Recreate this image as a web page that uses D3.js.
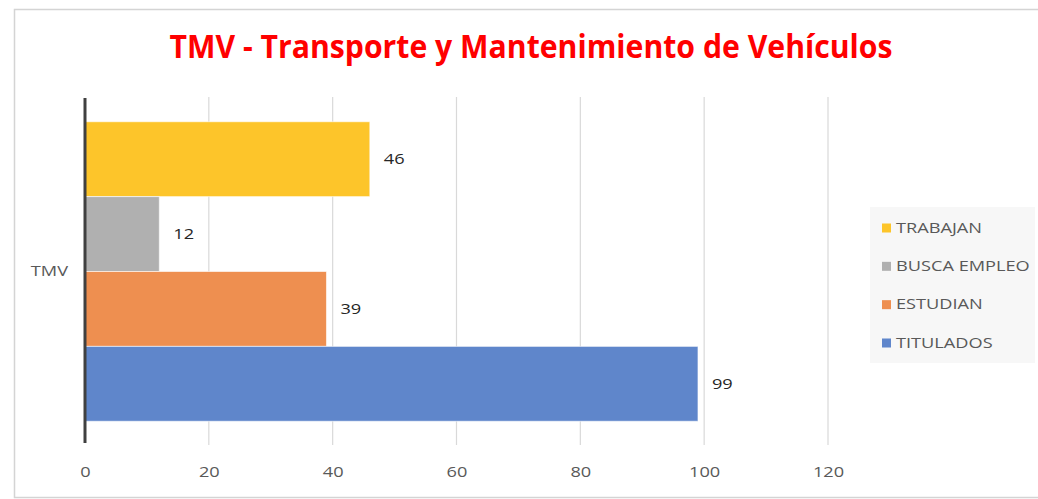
<!DOCTYPE html>
<html>
<head>
<meta charset="utf-8">
<script src="https://cdn.jsdelivr.net/npm/d3@7"></script>
<style>
  html, body { margin: 0; padding: 0; background: #ffffff; }
  svg { display: block; }
</style>
</head>
<body>
<svg id="chart" width="1038" height="499"></svg>
<script>
// Chart data
const category = "TMV";
const seriesNames = ["TRABAJAN", "BUSCA EMPLEO", "ESTUDIAN", "TITULADOS"];
const seriesValues = [46, 12, 39, 99];
const seriesColors = ["#fdc52a", "#b0b0b0", "#ee8f50", "#5f86cb"];
const xTicks = [0, 20, 40, 60, 80, 100, 120];
const titleText = "TMV - Transporte y Mantenimiento de Vehículos";

const svg = d3.select("#chart");
const font = "'Open Sans', 'Noto Sans', sans-serif";
const textSize = 14;
const stretch = 1.3; // labels are drawn slightly wide

// Outer chart frame
svg.append("rect")
  .attr("x", 14.5).attr("y", 9.5)
  .attr("width", 1040).attr("height", 488)
  .attr("fill", "#ffffff")
  .attr("stroke", "#d4d4d4").attr("stroke-width", 1.5);

// Title
const title = svg.append("text")
  .attr("x", 0).attr("y", 0)
  .attr("text-anchor", "middle")
  .attr("font-family", font)
  .attr("font-weight", "bold")
  .attr("font-size", 32)
  .attr("fill", "#ff0000")
  .text(titleText);
const tw = title.node().getComputedTextLength();
title.attr("transform", `translate(531, 58) scale(${723 / tw}, 1)`);

// Plot area
const plot = { left: 85, right: 828, top: 97, bottom: 446 };

const x = d3.scaleLinear()
  .domain([0, 120])
  .range([plot.left, plot.right]);

// Outer band for the single category
const yCat = d3.scaleBand()
  .domain([category])
  .range([plot.top, plot.bottom])
  .paddingOuter(0.0826)
  .paddingInner(0);

// Series within the category
const ySeries = d3.scaleBand()
  .domain(seriesNames)
  .range([yCat(category), yCat(category) + yCat.bandwidth()])
  .padding(0);

// Vertical gridlines
svg.append("g")
  .selectAll("line")
  .data(xTicks.filter(d => d !== 0))
  .join("line")
  .attr("x1", d => x(d)).attr("x2", d => x(d))
  .attr("y1", plot.top).attr("y2", plot.bottom - 1)
  .attr("stroke", "#d9d9d9").attr("stroke-width", 1.2);

// Bars
const rows = seriesNames.map((n, i) => ({ name: n, value: seriesValues[i], color: seriesColors[i] }));

svg.append("g")
  .selectAll("rect")
  .data(rows)
  .join("rect")
  .attr("x", x(0))
  .attr("y", d => ySeries(d.name))
  .attr("width", d => x(d.value) - x(0))
  .attr("height", ySeries.bandwidth())
  .attr("fill", d => d.color)
  .attr("stroke", "#ffffff")
  .attr("stroke-opacity", 0.6)
  .attr("stroke-width", 1);

// Value labels
svg.append("g")
  .selectAll("text")
  .data(rows)
  .join("text")
  .attr("transform", d => `translate(${x(d.value) + 14}, ${ySeries(d.name) + ySeries.bandwidth() / 2 + 1}) scale(${stretch}, 1)`)
  .attr("dominant-baseline", "middle")
  .attr("font-family", font)
  .attr("font-size", textSize)
  .attr("fill", "#262626")
  .text(d => d.value);

// X axis tick labels
const xAxis = d3.axisBottom(x)
  .tickValues(xTicks)
  .tickSize(0)
  .tickPadding(0)
  .tickFormat(d3.format("d"));

const gx = svg.append("g")
  .attr("transform", `translate(0, ${plot.bottom + 21})`)
  .call(xAxis);
gx.select(".domain").remove();
gx.selectAll("text")
  .attr("font-family", font)
  .attr("font-size", textSize)
  .attr("fill", "#595959")
  .attr("transform", `scale(${stretch}, 1)`);

// Category axis label
const yAxis = d3.axisLeft(yCat).tickSize(0).tickPadding(0);
const gy = svg.append("g")
  .attr("transform", `translate(${plot.left}, 0)`)
  .call(yAxis);
gy.select(".domain").remove();
gy.selectAll("text")
  .attr("x", 0)
  .attr("font-family", font)
  .attr("font-size", textSize)
  .attr("fill", "#595959")
  .attr("transform", `translate(-17, 0) scale(${stretch}, 1)`);

// Category axis line
svg.append("line")
  .attr("x1", plot.left).attr("x2", plot.left)
  .attr("y1", plot.top + 1).attr("y2", plot.bottom - 3)
  .attr("stroke", "#404040").attr("stroke-width", 3);

// Legend
const legend = svg.append("g");
legend.append("rect")
  .attr("x", 870).attr("y", 207)
  .attr("width", 165).attr("height", 156)
  .attr("fill", "#f7f7f7");

const legendY = d3.scalePoint()
  .domain(seriesNames)
  .range([228, 343]);

const li = legend.selectAll("g.item")
  .data(rows)
  .join("g")
  .attr("class", "item")
  .attr("transform", d => `translate(882, ${legendY(d.name)})`);

li.append("rect")
  .attr("x", 0).attr("y", -4.5)
  .attr("width", 9).attr("height", 9)
  .attr("fill", d => d.color);

li.append("text")
  .attr("transform", `translate(14, 1) scale(${stretch}, 1)`)
  .attr("dominant-baseline", "middle")
  .attr("font-family", font)
  .attr("font-size", textSize)
  .attr("fill", "#595959")
  .text(d => d.name);
</script>
</body>
</html>
